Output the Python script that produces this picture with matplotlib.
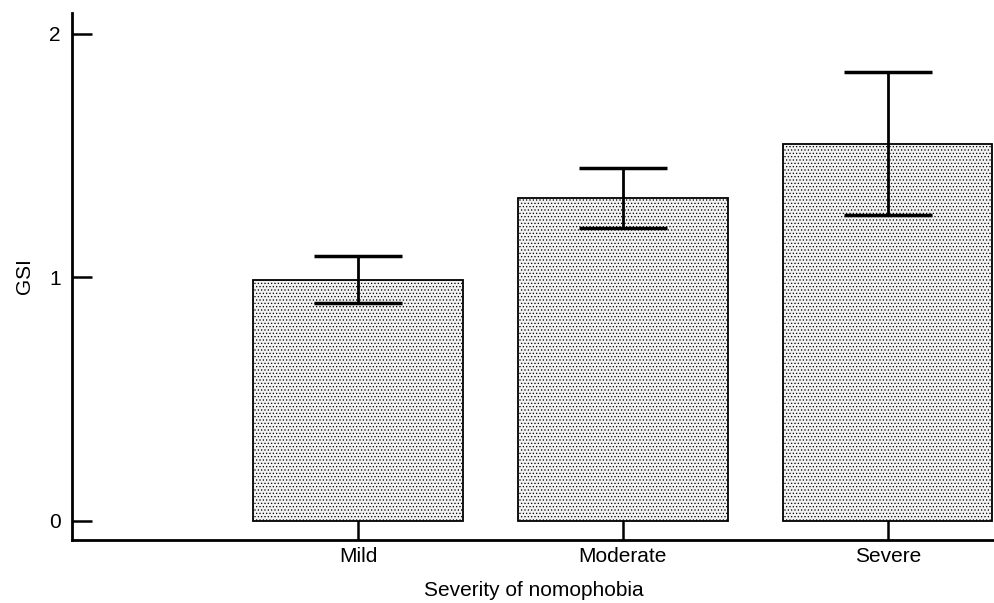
import matplotlib.pyplot as plt

plt.rcParams['font.family'] = ['Liberation Sans', 'DejaVu Sans']
plt.rcParams['hatch.color'] = '#ababab'
plt.rcParams['hatch.linewidth'] = 0.5

# data
categories = ['Mild', 'Moderate', 'Severe']
gsi_mean = [0.99, 1.325, 1.548]
gsi_err = [0.096, 0.123, 0.294]

fig = plt.figure(figsize=(9.95, 6.03), dpi=100)
ax = fig.add_axes([72 / 995, (603 - 540) / 603, 923 / 995, 527 / 603])

x = list(range(len(categories)))
ax.bar(x, gsi_mean, width=0.79, color='#f2f2f2', edgecolor='black',
       linewidth=1.3, hatch='.....', zorder=2)
ax.errorbar(x, gsi_mean, yerr=gsi_err, fmt='none', ecolor='black',
            elinewidth=2, capsize=31.7, capthick=2.5, zorder=3)

ax.set_xlim(-1.08, 2.405)
ax.set_ylim(-0.08, 2.086)
ax.set_yticks([0, 1, 2])
ax.set_xticks(x)
ax.set_xticklabels(categories)

for s in ['top', 'right']:
    ax.spines[s].set_visible(False)
for s in ['left', 'bottom']:
    ax.spines[s].set_linewidth(2)

ax.tick_params(axis='both', direction='in', length=14.5, width=1.8,
               labelsize=15)
ax.tick_params(axis='y', pad=8)
ax.tick_params(axis='x', pad=5)

ax.set_xlabel('Severity of nomophobia', fontsize=15, labelpad=11)
ax.set_ylabel('GSI', fontsize=15, labelpad=11)

plt.savefig('out.png', dpi=100)
